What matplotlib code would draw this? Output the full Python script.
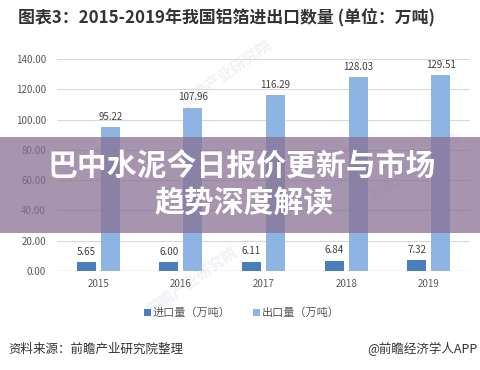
import matplotlib
matplotlib.use("Agg")
import matplotlib.pyplot as plt
from matplotlib.patches import Rectangle
import numpy as np

plt.rcParams['font.family'] = ['Noto Sans CJK SC', 'DejaVu Sans']

years = ['2015', '2016', '2017', '2018', '2019']
imports = [5.65, 6.00, 6.11, 6.84, 7.32]
exports = [95.22, 107.96, 116.29, 128.03, 129.51]
yticks = [0, 20, 40, 60, 80, 100, 120, 140]
series_names = ['进口量（万吨）', '出口量（万吨）']
title = '图表3：2015-2019年我国铝箔进出口数量 (单位：万吨)'
banner_lines = ['巴中水泥今日报价更新与市场', '趋势深度解读']
source = '资料来源：前瞻产业研究院整理'
credit = '@前瞻经济学人APP'

W, H = 481, 370
fig = plt.figure(figsize=(W/100, H/100), dpi=100)
fig.patch.set_facecolor('white')

ax = fig.add_axes([57/W, (H-271)/H, 413/W, 212/H])
ax.patch.set_visible(False)
x = np.arange(len(years))
bw = 0.23
off = 0.145
c_imp = '#4a7ebb'
c_exp = '#8eb4e3'
b1 = ax.bar(x - off, imports, bw, color=c_imp, label=series_names[0], zorder=3)
b2 = ax.bar(x + off, exports, bw, color=c_exp, label=series_names[1], zorder=3)
for xi, v in zip(x, imports):
    ax.text(xi - off, v + 3.5, f'{v:.2f}', ha='center', va='bottom', fontsize=7, color='#404040')
for xi, v in zip(x, exports):
    ax.text(xi + off, v + 3.5, f'{v:.2f}', ha='center', va='bottom', fontsize=7, color='#404040')

ax.set_xlim(-0.5, 4.5)
ax.set_ylim(0, 140)
ax.set_yticks(yticks)
ax.set_yticklabels([f'{t:.2f}' for t in yticks], fontsize=7, color='#595959')
ax.set_xticks(x)
ax.set_xticklabels(years, fontsize=7, color='#595959')
ax.tick_params(length=0, pad=8)
ax.tick_params(axis='x', pad=6)
for s in ax.spines.values():
    s.set_visible(False)
ax.grid(axis='y', color='#d9d9d9', linewidth=0.8, zorder=0)
ax.axhline(0, color='#d0d0d0', linewidth=0.9, zorder=2)

leg = fig.legend(handles=[b1, b2], labels=series_names, loc='center',
                 bbox_to_anchor=(242/W, (H-313)/H), ncol=2, frameon=False,
                 fontsize=8, handlelength=0.6, handleheight=0.6,
                 handletextpad=0.2, columnspacing=2.0)
for t in leg.get_texts():
    t.set_color('#595959')

fig.text(226/W, (H-17)/H, title, ha='center', va='center', fontsize=12.2,
         fontweight='bold', color='#333333')
fig.text(8/W, (H-349)/H, source, ha='left', va='center', fontsize=9, color='#333333')
fig.text(478/W, (H-349)/H, credit, ha='right', va='center', fontsize=9, color='#333333')

# faint watermarks (behind the chart)
for (wx, wy) in [(0.47, 0.80), (0.86, 0.55), (0.40, 0.24)]:
    fig.text(wx, wy, '前瞻产业研究院', fontsize=11, color='#f0f2f6', rotation=35,
             ha='center', va='center', zorder=-1, fontweight='bold')

banner = Rectangle((0, (H-233)/H), 1, 96/H, transform=fig.transFigure,
                   facecolor=(137/255, 111/255, 147/255), alpha=0.74,
                   edgecolor='none', zorder=20)
fig.add_artist(banner)
fig.text(242/W, (H-167)/H, banner_lines[0], ha='center', va='center', fontsize=21.5,
         fontweight='heavy', color='white', zorder=21)
fig.text(244/W, (H-204)/H, banner_lines[1], ha='center', va='center', fontsize=21.5,
         fontweight='heavy', color='white', zorder=21)

fig.savefig('out.png', dpi=100)
